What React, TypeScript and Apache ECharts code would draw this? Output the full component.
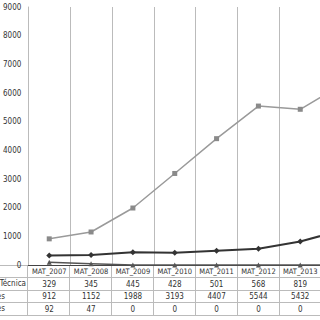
import React, { useEffect, useRef } from "react";
import * as echarts from "echarts";

const categories = ["MAT_2007", "MAT_2008", "MAT_2009", "MAT_2010", "MAT_2011", "MAT_2012", "MAT_2013", "MAT_2014"];
const seriesTecnica = [329, 345, 445, 428, 501, 568, 819, 1220];
const seriesGrad = [912, 1152, 1988, 3193, 4407, 5544, 5432, 6300];
const seriesPos = [92, 47, 0, 0, 0, 0, 0, 0];
const rowLabels = ["Educação Técnica", "Graduações", "Pós-Graduações"];
const yMin = 0;
const yMax = 9000;
const yStep = 1000;
const visibleColumns = 7;

const FONT = "'Liberation Sans Narrow', 'DejaVu Sans Condensed', sans-serif";

export default function App() {
  const ref = useRef<HTMLDivElement>(null);
  useEffect(() => {
    if (!ref.current) return;
    const chart = echarts.init(ref.current, undefined, { renderer: "svg" });
    const gridLine = { show: true, lineStyle: { color: "#bbbbbb", width: 1 } };
    const rowTop = 265;
    const rowH = 12.5;
    const labelEnds = [26, 5, 5];
    const hidden = { axisLine: { show: false }, axisTick: { show: false }, axisLabel: { show: false } };
    chart.setOption({
      animation: false,
      backgroundColor: "#ffffff",
      textStyle: { fontFamily: FONT },
      grid: [
        { left: 27, top: 7, width: 336, height: 258 },
        { left: 0, top: rowTop, width: 363, height: rowH * 4 },
        { left: 27, top: rowTop, width: 336, height: rowH * 4 },
      ],
      graphic: rowLabels.map((label, i) => ({
        type: "text",
        x: labelEnds[i],
        y: rowTop + rowH * (i + 1.5),
        style: {
          text: label,
          textAlign: "right",
          textVerticalAlign: "middle",
          fontSize: 8,
          fill: "#333",
          fontFamily: FONT,
        },
      })),
      xAxis: [
        {
          gridIndex: 0,
          type: "category",
          data: categories,
          boundaryGap: true,
          axisLine: { show: true, lineStyle: { color: "#444", width: 1 } },
          axisTick: { show: false },
          splitLine: { ...gridLine, interval: 0 },
          axisLabel: {
            interval: (i: number) => i < visibleColumns,
            margin: 0,
            fontSize: 8,
            color: "#333",
            fontFamily: FONT,
            lineHeight: 12.7,
            formatter: (v: string, i: number) =>
              `{h|${v}}\n{v|${seriesTecnica[i]}}\n{v|${seriesGrad[i]}}\n{v|${seriesPos[i]}}`,
            rich: {
              h: { fontSize: 7.5, color: "#333", fontFamily: FONT, lineHeight: 12.7, align: "center", width: 40 },
              v: { fontSize: 8, color: "#333", fontFamily: FONT, lineHeight: 12.7, align: "center", width: 40 },
            },
          },
        },
        {
          gridIndex: 1,
          type: "category",
          data: [""],
          ...hidden,
          splitLine: { show: false },
        },
        {
          gridIndex: 2,
          type: "category",
          data: categories,
          boundaryGap: true,
          ...hidden,
          splitLine: { ...gridLine, interval: 0 },
        },
      ],
      yAxis: [
        {
          gridIndex: 0,
          type: "value",
          min: yMin,
          max: yMax,
          interval: yStep,
          axisLine: { show: true, lineStyle: { color: "#bbbbbb" } },
          axisTick: { show: false },
          splitLine: { show: false },
          axisLabel: {
            fontSize: 8,
            color: "#333",
            margin: 7,
            fontFamily: FONT,
            formatter: (v: number) => String(v),
          },
        },
        {
          gridIndex: 1,
          type: "category",
          inverse: true,
          data: ["", ...rowLabels],
          ...hidden,
          splitLine: { ...gridLine, interval: 0 },
        },
        {
          gridIndex: 2,
          type: "category",
          inverse: true,
          data: ["", ...rowLabels],
          ...hidden,
          splitLine: { show: false },
        },
      ],
      series: [
        {
          name: rowLabels[1],
          type: "line",
          data: seriesGrad,
          symbol: "rect",
          symbolSize: 5,
          lineStyle: { color: "#9a9a9a", width: 1.5 },
          itemStyle: { color: "#8a8a8a" },
        },
        {
          name: rowLabels[2],
          type: "line",
          data: seriesPos,
          symbol: "triangle",
          symbolSize: 5,
          lineStyle: { color: "#555", width: 1.5 },
          itemStyle: { color: "#555" },
        },
        {
          name: rowLabels[0],
          type: "line",
          data: seriesTecnica,
          symbol: "diamond",
          symbolSize: 6,
          lineStyle: { color: "#333", width: 2 },
          itemStyle: { color: "#333" },
        },
      ],
    });
    return () => chart.dispose();
  }, []);
  return (
    <div
      style={{
        position: "fixed",
        left: 0,
        top: 0,
        width: 320,
        height: 320,
        overflow: "hidden",
        background: "#fff",
      }}
    >
      <div ref={ref} style={{ width: 400, height: 320 }} />
    </div>
  );
}
